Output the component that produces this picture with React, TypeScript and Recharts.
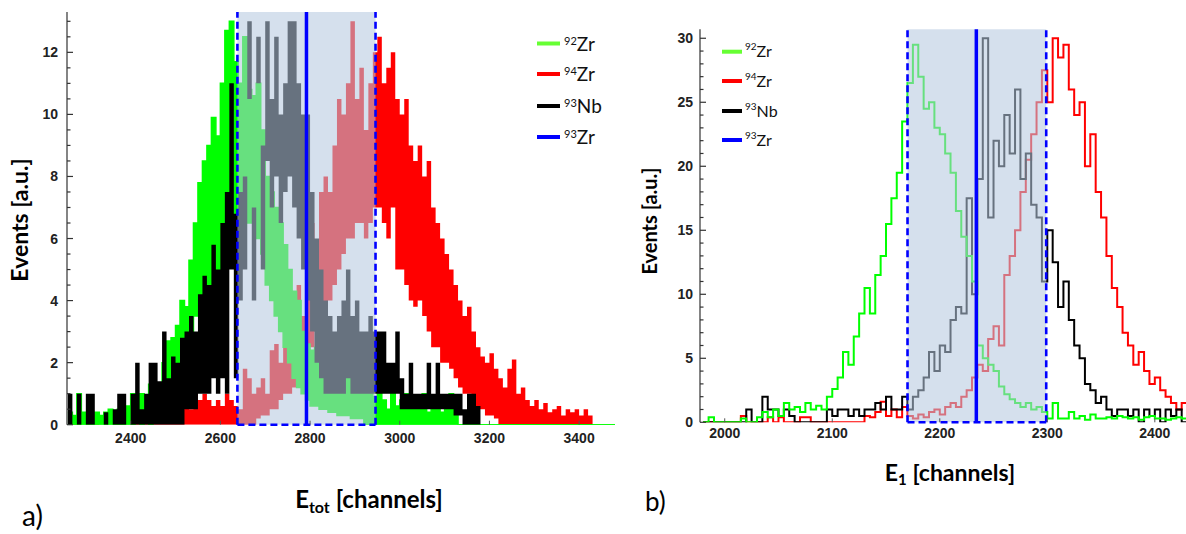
import {
  Area,
  ComposedChart,
  Line,
  ReferenceArea,
  ReferenceLine,
  XAxis,
  YAxis,
} from "recharts"

// ---- panel a: E_tot spectrum, 10-channel bins from 2260 ----
const A_FIRST_BIN = 2260
const A_BIN_WIDTH = 10

// each bin is drawn as a band between lo and hi (the spread of the raw channels)
const A_GREEN_HI = [
  0.4, 0.3, 1.0, 0.4, 0.4, 0.3, 0.4, 0.3, 0.4, 0.5,
  0.4, 0.5, 0.4, 0.6, 1.0, 0.8, 1.0, 0.9, 1.3, 1.0,
  1.3, 2.0, 2.7, 2.8, 3.2, 4.0, 3.8, 5.3, 6.5, 7.8,
  8.5, 9.0, 9.9, 9.3, 11.0, 12.7, 13.0, 11.7, 11.0, 12.5,
  10.8, 10.6, 11.0, 9.5, 8.0, 7.5, 7.0, 6.5, 5.8, 5.0,
  4.3, 4.0, 3.0, 2.6, 2.4, 2.5, 2.2, 2.0, 2.4, 2.0,
  1.8, 1.5, 1.8, 1.4, 1.3, 1.5, 1.0, 1.2, 0.9, 1.0,
  0.8, 0.5, 1.0, 0.6, 0.8, 1.0, 0.5, 0.8, 0.5, 1.0,
  0.4, 0.6, 0.8, 0.4, 0.5, 1.0, 0.4, 0, 0, 0,
  0, 0, 0, 0, 0, 0, 0, 0, 0, 0,
  0, 0, 0, 0, 0, 0, 0, 0, 0, 0,
  0, 0, 0, 0, 0, 0, 0, 0, 0, 0,
  0, 0,
]
const A_GREEN_LO = [
  0, 0, 0, 0, 0, 0, 0, 0, 0, 0,
  0, 0, 0, 0, 0, 0.3, 0, 0.3, 0, 0.4,
  0.5, 0.8, 1.0, 1.2, 1.5, 1.8, 2.0, 2.8, 3.5, 4.0,
  4.0, 4.5, 5.0, 5.0, 6.0, 7.0, 7.5, 6.5, 7.0, 8.0,
  6.5, 7.0, 6.0, 5.5, 4.5, 4.0, 3.5, 3.0, 2.5, 2.0,
  1.5, 1.2, 1.0, 0.8, 0.6, 0.6, 0.5, 0.5, 0.4, 0.4,
  0.3, 0.3, 0.3, 0.2, 0.2, 0.2, 0, 0, 0, 0,
  0, 0, 0, 0, 0, 0, 0, 0, 0, 0,
  0, 0, 0, 0, 0, 0, 0, 0, 0, 0,
  0, 0, 0, 0, 0, 0, 0, 0, 0, 0,
  0, 0, 0, 0, 0, 0, 0, 0, 0, 0,
  0, 0, 0, 0, 0, 0, 0, 0, 0, 0,
  0, 0,
]
const A_RED_HI = [
  0, 0.3, 0.3, 0, 0.3, 0, 0.3, 0, 0.3, 0,
  0.3, 0.5, 0.3, 0, 0.3, 0.3, 0, 0.3, 0.3, 0.3,
  0.3, 0.3, 0.5, 0.4, 1.0, 0.5, 0.6, 0.5, 1.0, 0.8,
  1.0, 0.8, 0.6, 0.8, 0.6, 1.0, 0.8, 0.6, 0.5, 1.8,
  1.5, 1.0, 1.2, 1.5, 1.0, 2.4, 2.6, 2.0, 2.5, 3.0,
  3.5, 4.5, 3.5, 5.0, 6.5, 5.5, 7.5, 8.0, 7.5, 9.0,
  10.5, 10.0, 11.0, 13.0, 10.5, 11.5, 9.5, 11.0, 12.0, 12.5,
  11.0, 11.5, 12.0, 10.5, 10.0, 10.5, 9.0, 8.5, 9.0, 8.0,
  8.5, 7.0, 6.5, 6.0, 5.5, 5.0, 4.5, 4.0, 3.5, 3.8,
  3.0, 2.5, 2.2, 2.0, 2.3, 1.8, 1.5, 1.2, 1.8, 2.1,
  1.0, 1.2, 0.8, 0.6, 0.8, 0.5, 0.7, 0.4, 0.5, 0.6,
  0.3, 0.5, 0.4, 0.5, 0.3, 0.5, 0.3, 0, 0, 0,
  0, 0,
]
const A_RED_LO = [
  0, 0, 0, 0, 0, 0, 0, 0, 0, 0,
  0, 0, 0, 0, 0, 0, 0, 0, 0, 0,
  0, 0, 0, 0, 0, 0, 0, 0, 0, 0,
  0, 0, 0, 0, 0, 0, 0, 0, 0, 0,
  0, 0, 0.2, 0.3, 0.3, 0.5, 0.5, 0.8, 1.0, 1.0,
  1.2, 1.5, 1.8, 2.0, 2.5, 3.0, 3.0, 3.5, 4.0, 4.5,
  5.0, 5.5, 6.0, 6.0, 6.5, 6.5, 6.0, 6.5, 7.0, 7.0,
  6.5, 6.0, 7.0, 5.0, 5.0, 4.5, 4.0, 3.8, 4.0, 3.5,
  3.0, 2.5, 2.5, 2.0, 2.0, 1.8, 1.5, 1.2, 1.0, 1.0,
  0.8, 0.5, 0.5, 0.3, 0.3, 0.2, 0, 0, 0, 0,
  0, 0, 0, 0, 0, 0, 0, 0, 0, 0,
  0, 0, 0, 0, 0, 0, 0, 0, 0, 0,
  0, 0,
]
const A_BLACK_HI = [
  1.0, 0, 1.0, 0, 1.0, 1.0, 0, 0, 0.4, 0,
  0.5, 1.0, 1.0, 0, 1.0, 2.0, 0.5, 1.0, 2.0, 2.0,
  1.4, 3.0, 1.5, 2.2, 2.0, 2.8, 3.0, 3.5, 3.0, 4.2,
  4.8, 4.5, 5.8, 5.0, 6.5, 7.5, 11.0, 6.8, 7.5, 8.0,
  13.0, 7.0, 12.5, 9.0, 13.0, 10.5, 12.5, 10.0, 11.0, 13.0,
  13.0, 11.0, 10.0, 10.0, 7.5, 6.0, 5.0, 4.0, 3.5, 3.0,
  3.5, 4.0, 5.0, 3.5, 4.0, 3.0, 3.0, 3.5, 3.0, 3.0,
  3.0, 2.0, 2.0, 3.0, 1.5, 1.0, 2.0, 1.0, 1.0, 1.0,
  2.0, 1.0, 2.0, 1.0, 1.0, 1.0, 1.0, 1.0, 0.5, 1.0,
  1.0, 0.6, 0, 0, 0, 0, 0, 0, 0, 0,
  0, 0, 0, 0, 0, 0, 0, 0, 0, 0,
  0, 0, 0, 0, 0, 0, 0, 0, 0, 0,
  0, 0,
]
const A_BLACK_LO = [
  0, 0, 0, 0, 0, 0, 0, 0, 0, 0,
  0, 0, 0, 0, 0, 0, 0, 0, 0, 0,
  0, 0, 0, 0, 0, 0, 0.5, 0.5, 0.5, 1.0,
  1.0, 1.0, 1.5, 1.0, 1.5, 1.0, 5.0, 1.5, 4.0, 5.0,
  10.5, 4.0, 11.0, 5.0, 8.5, 7.0, 8.0, 6.5, 7.5, 8.0,
  7.0, 6.0, 5.0, 4.0, 3.0, 2.0, 1.5, 1.0, 1.0, 1.0,
  1.0, 1.0, 1.5, 1.0, 1.0, 1.0, 1.0, 1.0, 1.0, 1.0,
  1.0, 1.0, 1.0, 1.0, 0.5, 0.5, 0.5, 0.5, 0.5, 0.5,
  0.5, 0.5, 0.5, 0.5, 0.5, 0.5, 0.3, 0.3, 0, 0,
  0, 0, 0, 0, 0, 0, 0, 0, 0, 0,
  0, 0, 0, 0, 0, 0, 0, 0, 0, 0,
  0, 0, 0, 0, 0, 0, 0, 0, 0, 0,
  0, 0,
]

const A_X_TICKS = [2400, 2600, 2800, 3000, 3200, 3400]
const A_Y_TICKS = [
  0, 0.5, 1, 1.5, 2, 2.5, 3, 3.5, 4, 4.5, 5, 5.5, 6, 6.5, 7, 7.5, 8, 8.5, 9,
  9.5, 10, 10.5, 11, 11.5, 12, 12.5, 13,
]
const A_WINDOW = [2638, 2946]
const A_CUT = 2792

// ---- panel b: E_1 spectrum, 5-channel bins from 1980 ----
const B_FIRST_BIN = 1980
const B_BIN_WIDTH = 5

const B_GREEN = [
  0, 0.4, 0, 0, 0, 0, 0, 0.3, 0, 0,
  0.4, 0.8, 0.4, 1.0, 0.5, 1.5, 1.0, 1.2, 0.8, 1.5,
  1.0, 1.3, 1.0, 2.0, 2.6, 3.5, 5.5, 4.5, 6.7, 8.5,
  10.5, 8.5, 11.5, 13.0, 15.5, 17.5, 19.5, 23.5, 26.5, 29.5,
  27.0, 24.5, 25.0, 23.0, 22.5, 21.0, 19.5, 16.5, 14.5, 13.0,
  11.0, 6.0, 5.0, 4.5, 4.0, 2.8, 2.2, 1.8, 1.5, 1.2,
  1.5, 1.0, 1.2, 0.8, 0.3, 1.5, 0.3, 0.3, 0.8, 0.3,
  0.5, 0.2, 0.6, 0.3, 0.3, 0.4, 0.3, 0.5, 0.4, 0.3,
  0.4, 0.2, 0.4, 0.5, 0.3, 0.3, 0.2, 0.3, 0.4, 0.3, 0.2,
]
const B_RED = [
  0, 0, 0, 0, 0, 0, 0, 0.5, 0, 0,
  0, 0, 0.4, 0, 0.4, 0, 0, 0, 0.4, 0.4,
  0, 0, 0, 0, 0, 0, 0, 0, 0, 0,
  0.5, 0.4, 0.8, 1.6, 0.5, 1.0, 0.4, 1.2, 0.5, 0.3,
  0.6, 0.4, 0.8, 1.0, 0.6, 1.2, 1.5, 1.2, 2.0, 2.5,
  3.5, 4.5, 4.0, 6.5, 7.5, 6.0, 11.5, 13.0, 15.0, 18.0,
  20.5, 22.5, 25.0, 27.5, 25.0, 30.0, 28.5, 29.5, 26.0, 24.0,
  25.0, 20.0, 22.5, 18.0, 16.0, 13.0, 10.5, 9.0, 7.0, 6.0,
  4.5, 5.5, 4.0, 3.0, 3.5, 2.5, 2.0, 1.5, 1.0, 1.5, 0.8,
]
const B_BLACK = [
  0, 0, 0, 0, 0, 0, 0, 0, 1.0, 0,
  0, 2.0, 1.0, 1.0, 0.5, 1.0, 0.5, 0, 0, 0,
  0, 0, 0, 1.0, 0.5, 1.0, 1.0, 0.5, 1.0, 0.5,
  1.0, 1.0, 1.5, 1.0, 2.0, 1.0, 1.0, 2.0, 1.0, 2.0,
  2.5, 3.5, 5.5, 4.0, 6.0, 5.5, 8.0, 9.0, 8.5, 17.5,
  10.0, 19.0, 30.0, 16.0, 22.0, 20.0, 24.0, 21.0, 26.0, 19.0,
  21.0, 17.0, 16.0, 11.0, 15.0, 12.5, 9.0, 11.0, 8.0, 6.0,
  5.0, 3.0, 2.5, 1.5, 2.0, 1.0, 0.5, 1.0, 1.0, 0.5,
  1.0, 0, 1.0, 0.5, 1.0, 0, 1.0, 0.5, 1.0, 0, 0,
]

const B_X_TICKS = [2000, 2100, 2200, 2300, 2400]
const B_Y_TICKS = [
  0, 1, 2, 3, 4, 5, 6, 7, 8, 9, 10, 11, 12, 13, 14, 15, 16, 17, 18, 19, 20,
  21, 22, 23, 24, 25, 26, 27, 28, 29, 30,
]
const B_WINDOW = [2170, 2299]
const B_CUT = 2234

const LEGEND = [
  { mass: "92", el: "Zr", color: "#66ff33" },
  { mass: "94", el: "Zr", color: "#ff0000" },
  { mass: "93", el: "Nb", color: "#000000" },
  { mass: "93", el: "Zr", color: "#0000ff" },
]

const GREEN = "#00ff00"
const RED = "#ff0000"
const BLACK = "#000000"
const BLUE = "#0000ff"
const SHADE = "rgb(182,200,224)"
const TICK_FONT = { fontFamily: "Liberation Sans", fontWeight: 700, fontSize: 14, fill: "#222" }
const TITLE_FONT = "Lato"

// one row per bin edge; the last bin is closed by repeating its values
function binRows(first: number, width: number, series: Record<string, any[]>) {
  const n = Object.values(series)[0].length
  const rows: any[] = []
  for (let i = 0; i <= n; i++) {
    const j = Math.min(i, n - 1)
    const row: any = { ch: first + i * width }
    for (const key in series) row[key] = series[key][j]
    rows.push(row)
  }
  return rows
}

const band = (lo: number[], hi: number[]) => lo.map((v, i) => [v, hi[i]])

const rowsA = binRows(A_FIRST_BIN, A_BIN_WIDTH, {
  green: band(A_GREEN_LO, A_GREEN_HI),
  red: band(A_RED_LO, A_RED_HI),
  black: band(A_BLACK_LO, A_BLACK_HI),
})
const rowsB = binRows(B_FIRST_BIN, B_BIN_WIDTH, {
  green: B_GREEN,
  red: B_RED,
  black: B_BLACK,
})

function yTick(majorEvery: number, gap: number) {
  return (props: any) => {
    const { x, y, payload } = props
    const q = payload.value / majorEvery
    const major = Math.abs(q - Math.round(q)) < 1e-6
    return (
      <g>
        <line x1={x} x2={x + (major ? 6 : 3.5)} y1={y} y2={y} stroke="#333" strokeWidth={1.2} />
        {major && (
          <text x={x - gap} y={y} dy="0.36em" textAnchor="end" style={TICK_FONT}>
            {payload.value}
          </text>
        )}
      </g>
    )
  }
}

function xTick(labelDy: number) {
  return (props: any) => {
    const { x, y, payload } = props
    return (
      <g>
        <line x1={x} x2={x} y1={y} y2={y - 4} stroke="#555" strokeWidth={1} />
        <text x={x} y={y + labelDy} textAnchor="middle" style={TICK_FONT}>
          {payload.value}
        </text>
      </g>
    )
  }
}

export default function App() {
  return (
    <div
      style={{
        position: "absolute",
        left: 0,
        top: 0,
        width: 1186,
        height: 534,
        background: "#fff",
        overflow: "hidden",
      }}
    >
      <ComposedChart
        width={640}
        height={470}
        data={rowsA}
        margin={{ top: 12, right: 25, bottom: 15.3, left: 7 }}
        style={{ position: "absolute", left: 0, top: 0 }}
      >
        <XAxis
          dataKey="ch"
          type="number"
          domain={[2258, 3480]}
          allowDataOverflow
          ticks={A_X_TICKS}
          interval={0}
          tickSize={0}
          tickMargin={0}
          axisLine={false}
          tick={xTick(18.3)}
          height={30}
        />
        <YAxis
          type="number"
          domain={[0, 13.3]}
          allowDataOverflow
          ticks={A_Y_TICKS}
          interval={0}
          tickSize={0}
          tickMargin={0}
          axisLine={{ stroke: "#333", strokeWidth: 1.2 }}
          tick={yTick(2, 9)}
          width={60}
        />
        {/* green keeps its outline so the zero line along the axis stays green */}
        <Area dataKey="red" type="stepAfter" fill={RED} fillOpacity={1} stroke="none" isAnimationActive={false} />
        <Area dataKey="green" type="stepAfter" fill={GREEN} fillOpacity={1} stroke={GREEN} strokeWidth={1.5} isAnimationActive={false} />
        <Area dataKey="black" type="stepAfter" fill={BLACK} fillOpacity={1} stroke="none" isAnimationActive={false} />
        <ReferenceArea x1={A_WINDOW[0]} x2={A_WINDOW[1]} fill={SHADE} fillOpacity={0.57} stroke="none" zIndex={450} />
        <ReferenceLine x={A_WINDOW[0]} stroke={BLUE} strokeWidth={2.6} strokeDasharray="7 4" zIndex={460} />
        <ReferenceLine x={A_WINDOW[1]} stroke={BLUE} strokeWidth={2.6} strokeDasharray="7 4" zIndex={460} />
        <ReferenceLine
          segment={[{ x: A_WINDOW[0], y: 0 }, { x: A_WINDOW[1], y: 0 }]}
          stroke={BLUE}
          strokeWidth={2.6}
          strokeDasharray="7 4"
          zIndex={460}
        />
        <ReferenceLine x={A_CUT} stroke={BLUE} strokeWidth={3.5} zIndex={470} />
      </ComposedChart>

      <ComposedChart
        width={536}
        height={460}
        data={rowsB}
        margin={{ top: 29.3, right: 0, bottom: 7.7, left: 5 }}
        style={{ position: "absolute", left: 650, top: 0 }}
      >
        <XAxis
          dataKey="ch"
          type="number"
          domain={[1977, 2429]}
          allowDataOverflow
          ticks={B_X_TICKS}
          interval={0}
          tickSize={0}
          tickMargin={0}
          axisLine={false}
          tick={xTick(16)}
          height={30}
        />
        <YAxis
          type="number"
          domain={[0, 30.7]}
          allowDataOverflow
          ticks={B_Y_TICKS}
          interval={0}
          tickSize={0}
          tickMargin={0}
          axisLine={{ stroke: "#333", strokeWidth: 1.2 }}
          tick={yTick(5, 7)}
          width={45}
        />
        <Line dataKey="red" type="stepAfter" stroke={RED} strokeWidth={2} dot={false} isAnimationActive={false} />
        <Line dataKey="black" type="stepAfter" stroke={BLACK} strokeWidth={2} dot={false} isAnimationActive={false} />
        <Line dataKey="green" type="stepAfter" stroke={GREEN} strokeWidth={2} dot={false} isAnimationActive={false} />
        <ReferenceArea x1={B_WINDOW[0]} x2={B_WINDOW[1]} fill={SHADE} fillOpacity={0.57} stroke="none" zIndex={450} />
        <ReferenceLine x={B_WINDOW[0]} stroke={BLUE} strokeWidth={2.6} strokeDasharray="7 4" zIndex={460} />
        <ReferenceLine x={B_WINDOW[1]} stroke={BLUE} strokeWidth={2.6} strokeDasharray="7 4" zIndex={460} />
        <ReferenceLine
          segment={[{ x: B_WINDOW[0], y: 0 }, { x: B_WINDOW[1], y: 0 }]}
          stroke={BLUE}
          strokeWidth={2.6}
          strokeDasharray="7 4"
          zIndex={460}
        />
        <ReferenceLine x={B_CUT} stroke={BLUE} strokeWidth={3.5} zIndex={470} />
      </ComposedChart>

      {/* titles, panel letters and the two legends */}
      <svg
        width={1186}
        height={534}
        style={{ position: "absolute", left: 0, top: 0, pointerEvents: "none" }}
      >
        <text transform="translate(28,220) rotate(-90)" textAnchor="middle" fontFamily={TITLE_FONT} fontWeight={700} fontSize={23}>
          Events [a.u.]
        </text>
        <text transform="translate(657,221) rotate(-90)" textAnchor="middle" fontFamily={TITLE_FONT} fontWeight={700} fontSize={20}>
          Events [a.u.]
        </text>
        <text x={369} y={508} textAnchor="middle" fontFamily={TITLE_FONT} fontWeight={700} fontSize={24}>
          E<tspan fontSize={16} dy={5}>tot</tspan>
          <tspan dy={-5}> [channels]</tspan>
        </text>
        <text x={950} y={481} textAnchor="middle" fontFamily={TITLE_FONT} fontWeight={700} fontSize={23}>
          E<tspan fontSize={15} dy={4}>1</tspan>
          <tspan dy={-4}> [channels]</tspan>
        </text>
        <text x={22} y={526} fontFamily={TITLE_FONT} fontSize={28}>a)</text>
        <text x={645} y={511} fontFamily={TITLE_FONT} fontSize={26}>b)</text>

        {LEGEND.map((item, i) => {
          const y = [43.5, 74, 106, 137][i]
          return (
            <g key={"la" + i}>
              <line x1={537} x2={560} y1={y} y2={y} stroke={item.color} strokeWidth={4} />
              <text x={564} y={y + 7} fontFamily={TITLE_FONT} fontSize={19} fill="#111">
                <tspan fontSize={11} dy={-6}>{item.mass}</tspan>
                <tspan dy={6}>{item.el}</tspan>
              </text>
            </g>
          )
        })}
        {LEGEND.map((item, i) => {
          const y = [51.7, 81, 111, 140][i]
          return (
            <g key={"lb" + i}>
              <line x1={722} x2={742} y1={y} y2={y} stroke={item.color} strokeWidth={4} />
              <text x={745} y={y + 5.6} fontFamily={TITLE_FONT} fontSize={16} fill="#111">
                <tspan fontSize={10} dy={-7}>{item.mass}</tspan>
                <tspan dy={7}>{item.el}</tspan>
              </text>
            </g>
          )
        })}
      </svg>
    </div>
  )
}
